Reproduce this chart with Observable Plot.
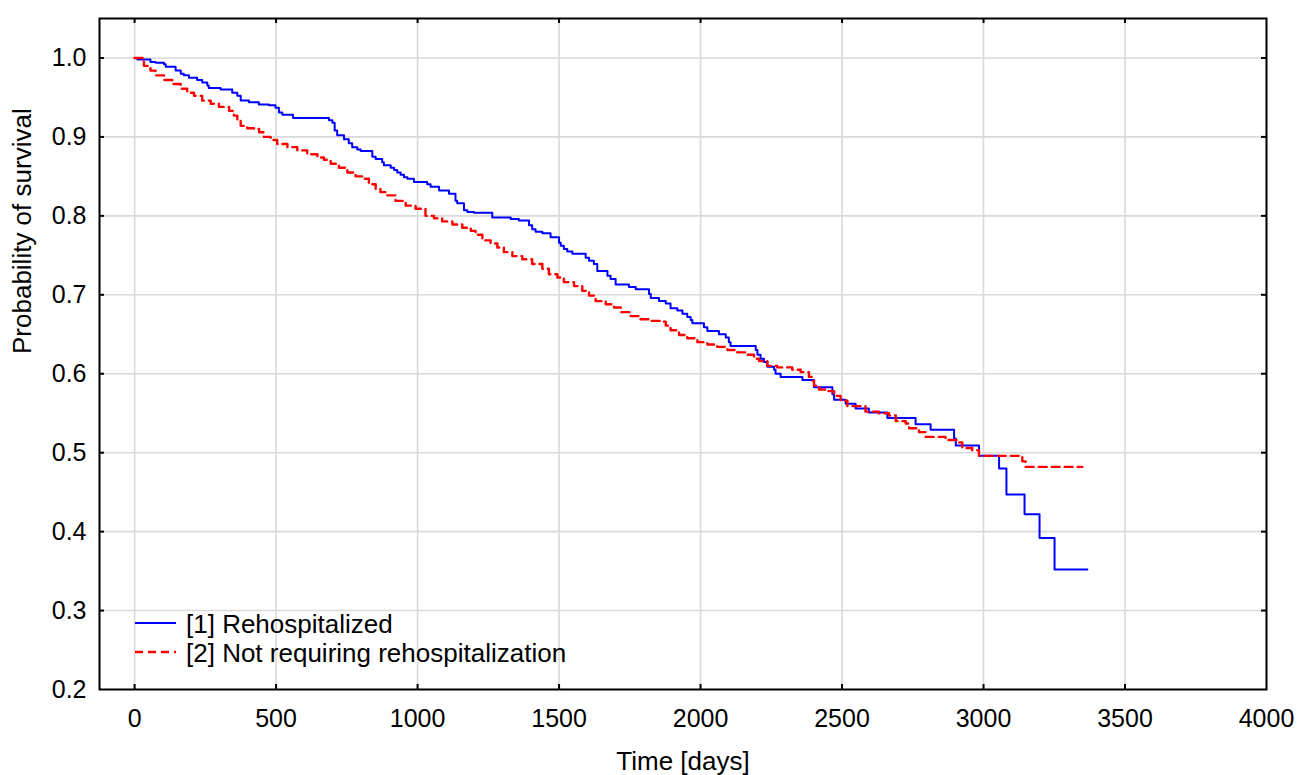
<!DOCTYPE html>
<html>
<head>
<meta charset="utf-8">
<script src="https://cdn.jsdelivr.net/npm/d3@7"></script>
<script src="https://cdn.jsdelivr.net/npm/@observablehq/plot@0.6"></script>
<style>
  html, body { margin: 0; padding: 0; background: #fff; }
  #chart { position: relative; width: 1297px; height: 775px; }
</style>
</head>
<body>
<div id="chart"></div>
<script>
// ---- Data ----
const xTicks = [0, 500, 1000, 1500, 2000, 2500, 3000, 3500, 4000];
const yTicks = [0.2, 0.3, 0.4, 0.5, 0.6, 0.7, 0.8, 0.9, 1.0];

const seriesNames = ["[1] Rehospitalized", "[2] Not requiring rehospitalization"];

const rehospDays = [0,10,56,74,104,110,145,163,174,192,221,239,257,262,304,345,363,375,404,439,475,498,510,522,560,687,699,707,716,740,757,769,787,799,840,852,875,881,905,917,928,940,952,964,987,1034,1046,1076,1111,1134,1140,1164,1176,1199,1264,1329,1358,1394,1405,1417,1441,1470,1500,1506,1517,1529,1547,1594,1606,1623,1635,1671,1682,1700,1747,1771,1818,1824,1853,1877,1894,1918,1936,1953,1965,1971,2012,2024,2065,2089,2100,2106,2195,2201,2212,2224,2236,2260,2265,2283,2360,2401,2466,2472,2513,2548,2595,2660,2760,2813,2896,2902,2984,3055,3081,3145,3198,3251,3367];
const rehospSurv = [1.0,0.998,0.995,0.994,0.992,0.989,0.984,0.980,0.978,0.975,0.972,0.969,0.965,0.962,0.960,0.956,0.952,0.946,0.944,0.941,0.940,0.937,0.931,0.928,0.924,0.921,0.918,0.908,0.902,0.897,0.892,0.887,0.884,0.882,0.875,0.872,0.868,0.864,0.861,0.858,0.855,0.852,0.849,0.847,0.843,0.840,0.837,0.832,0.828,0.819,0.816,0.807,0.805,0.804,0.798,0.796,0.794,0.788,0.783,0.780,0.778,0.773,0.766,0.762,0.758,0.755,0.752,0.747,0.743,0.739,0.730,0.724,0.720,0.713,0.710,0.707,0.701,0.696,0.692,0.689,0.683,0.680,0.676,0.672,0.668,0.664,0.659,0.654,0.650,0.646,0.640,0.635,0.630,0.624,0.619,0.615,0.609,0.605,0.600,0.596,0.592,0.583,0.574,0.567,0.562,0.556,0.551,0.544,0.536,0.529,0.518,0.509,0.496,0.480,0.447,0.422,0.392,0.352,0.352];

const notReqDays = [0,33,56,74,104,133,163,186,210,239,269,298,334,351,363,375,398,422,440,457,481,504,540,575,610,646,669,693,722,752,781,811,828,852,869,887,922,958,993,1028,1058,1087,1123,1158,1188,1205,1229,1258,1282,1305,1335,1370,1405,1441,1464,1494,1517,1553,1582,1606,1629,1665,1694,1718,1753,1788,1824,1859,1877,1894,1924,1953,1989,2024,2059,2095,2130,2159,2189,2207,2236,2271,2324,2354,2383,2395,2401,2419,2448,2472,2495,2519,2583,2631,2666,2690,2725,2737,2772,2796,2866,2907,2925,2960,2984,3137,3149,3349];
const notReqSurv = [1.0,0.990,0.984,0.978,0.972,0.967,0.961,0.956,0.952,0.946,0.942,0.938,0.933,0.927,0.921,0.914,0.911,0.910,0.906,0.900,0.896,0.891,0.887,0.883,0.878,0.874,0.871,0.866,0.861,0.855,0.850,0.847,0.840,0.834,0.830,0.826,0.819,0.813,0.809,0.800,0.797,0.793,0.789,0.785,0.781,0.776,0.769,0.765,0.760,0.754,0.749,0.745,0.739,0.733,0.726,0.722,0.716,0.711,0.705,0.699,0.692,0.688,0.684,0.678,0.673,0.669,0.667,0.666,0.661,0.655,0.649,0.645,0.640,0.637,0.634,0.630,0.627,0.624,0.619,0.616,0.610,0.608,0.605,0.602,0.596,0.591,0.585,0.580,0.578,0.572,0.566,0.559,0.552,0.550,0.547,0.540,0.537,0.531,0.526,0.520,0.516,0.513,0.506,0.503,0.496,0.489,0.482,0.482];

const colors = ["#0000ff", "#ff0000"];

// ---- Build tables ----
const rehosp = rehospDays.map((t, i) => ({t, s: rehospSurv[i]}));
const notReq = notReqDays.map((t, i) => ({t, s: notReqSurv[i]}));

const W = 1297, H = 775;
const mL = 99, mT = 18, mR = 31, mB = 86;
const pw = W - mL - mR, ph = H - mT - mB;
const tick = 5;
const font = "'Liberation Sans', Arial, Helvetica, sans-serif";

const chart = Plot.plot({
  width: W, height: H,
  marginLeft: mL, marginTop: mT, marginRight: mR, marginBottom: mB,
  x: {domain: [-124, 4000]},
  y: {domain: [0.2, 1.05]},
  style: {fontFamily: font, fontSize: "25px", color: "#000", background: "#fff", overflow: "visible"},
  marks: [
    Plot.ruleX(xTicks, {x: d => d, stroke: "#d9d9d9", strokeWidth: 1.6}),
    Plot.ruleY(yTicks, {y: d => d, stroke: "#d9d9d9", strokeWidth: 1.6}),
    Plot.line(rehosp, {x: "t", y: "s", curve: "step-after", stroke: colors[0], strokeWidth: 2}),
    Plot.line(notReq, {x: "t", y: "s", curve: "step-after", stroke: colors[1], strokeWidth: 2.4, strokeDasharray: "8,5"}),
    Plot.frame({stroke: "#000", strokeWidth: 2}),
    Plot.ruleX(xTicks.filter(d => d > -124 && d < 4000), {x: d => d, insetTop: ph - tick, stroke: "#000", strokeWidth: 2}),
    Plot.ruleX(xTicks.filter(d => d > -124 && d < 4000), {x: d => d, insetBottom: ph - tick, stroke: "#000", strokeWidth: 2}),
    Plot.ruleY(yTicks.filter(d => d > 0.2), {y: d => d, insetRight: pw - tick, stroke: "#000", strokeWidth: 2}),
    Plot.ruleY(yTicks.filter(d => d > 0.2), {y: d => d, insetLeft: pw - tick, stroke: "#000", strokeWidth: 2}),
    Plot.axisX(xTicks, {tickSize: 0, tickPadding: 20, fontSize: 25, label: null, fill: "#000", tickFormat: d => String(d)}),
    Plot.axisY(yTicks, {tickSize: 0, tickPadding: 13, fontSize: 25, label: null, tickFormat: d3.format(".1f"), fill: "#000"}),
    Plot.text(["Time [days]"], {text: d => d, frameAnchor: "bottom", dy: 80, fontSize: 26, fill: "#000"}),
    Plot.text(["Probability of survival"], {text: d => d, frameAnchor: "left", dx: -77, rotate: -90, fontSize: 26, fill: "#000"})
  ]
});

document.getElementById("chart").appendChild(chart);

// ---- Legend (inside plot, bottom-left) ----
const svg = d3.select(chart);
const lg = svg.append("g").attr("font-family", font).attr("font-size", 26).attr("text-anchor", "start");
const rows = [{y: 623, dash: null, w: 2}, {y: 652, dash: "8,5", w: 2.4}];
rows.forEach((r, i) => {
  lg.append("line").attr("x1", 135).attr("x2", 176).attr("y1", r.y).attr("y2", r.y)
    .attr("stroke", colors[i]).attr("stroke-width", r.w)
    .attr("stroke-dasharray", r.dash);
  lg.append("text").attr("x", 186).attr("y", r.y + 1).attr("dy", "0.35em")
    .attr("text-anchor", "start").attr("fill", "#000").text(seriesNames[i]);
});
</script>
</body>
</html>
